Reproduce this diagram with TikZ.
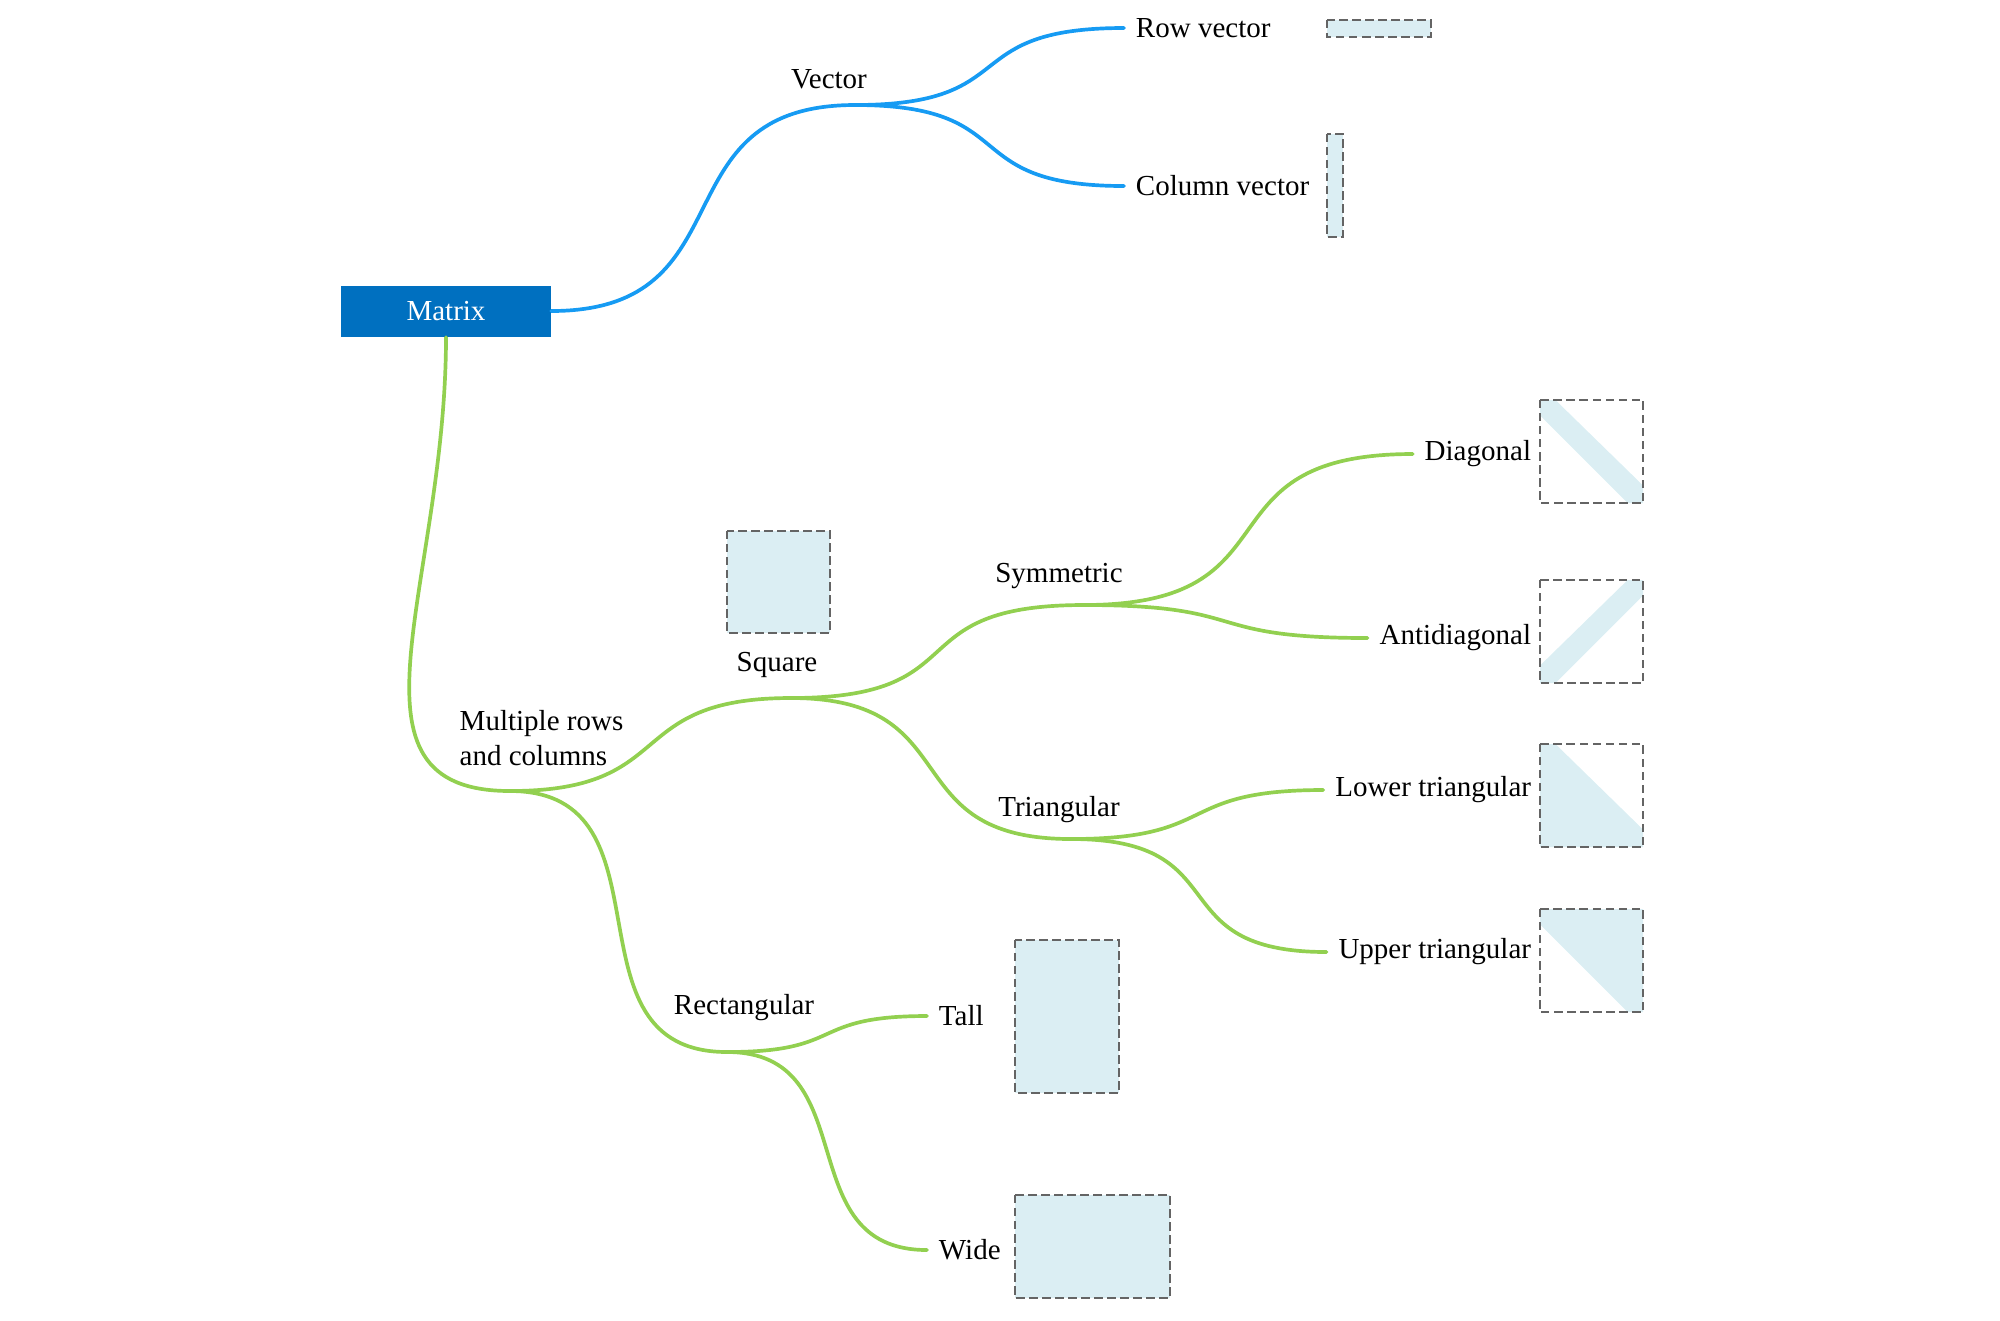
\documentclass[tikz,border=0pt]{standalone}
\usepackage{fontspec}
\setmainfont{Liberation Serif}
\usetikzlibrary{positioning}
\definecolor{vecblue}{RGB}{22,155,243}
\definecolor{leafgreen}{RGB}{146,208,80}
\definecolor{matrixblue}{RGB}{0,112,192}
\definecolor{cellfill}{RGB}{219,238,243}
\definecolor{framegray}{RGB}{100,100,100}

\begin{document}
\begin{tikzpicture}[x=0.01cm, y=-0.01cm,
    every node/.style={font=\fontsize{8.25}{9.7}\selectfont},
    branch/.style={line width=1.05pt, line cap=round},
    leaf/.style={inner sep=3.2pt},
    frame/.style={draw=framegray, line width=0.45pt, dash pattern=on 2.4pt off 1.3pt},
  ]
    \useasboundingbox (0,0) rectangle (2000,1320);

    \node[fill=matrixblue, text=white, minimum width=2.09cm, minimum height=0.51cm, inner sep=0pt] (matrix) at (446,311) {Matrix};

    % junctions
    \coordinate (vec) at (855,105);
    \coordinate (multi) at (510,791);
    \coordinate (sq) at (791,698);
    \coordinate (sym) at (1084,605);
    \coordinate (tri) at (1071,839);
    \coordinate (rect) at (727,1052);

    \node at (829,79) {Vector};
    \node[align=left, anchor=west, inner sep=0pt] at (459,738) {Multiple rows\\and columns};
    \node at (777,665) {Square};
    \node at (1059,576) {Symmetric};
    \node at (1059,810) {Triangular};
    \node at (744,1008) {Rectangular};

    \node[leaf, anchor=west] (row) at (1124,28) {Row vector};
    \node[leaf, anchor=west] (col) at (1124,186) {Column vector};
    \node[leaf, anchor=east] (diag) at (1543,454) {Diagonal};
    \node[leaf, anchor=east] (anti) at (1543,638) {Antidiagonal};
    \node[leaf, anchor=east] (lower) at (1543,790) {Lower triangular};
    \node[leaf, anchor=east] (upper) at (1543,952) {Upper triangular};
    \node[leaf, anchor=west] (tall) at (927,1016) {Tall};
    \node[leaf, anchor=west] (wide) at (927,1250) {Wide};

    \draw[branch, vecblue] (matrix.east) .. controls +(200,0) and +(-200,0) .. (vec);
    \draw[branch, vecblue] (vec) .. controls +(170,0) and +(-170,0) .. (row.west);
    \draw[branch, vecblue] (vec) .. controls +(170,0) and +(-170,0) .. (col.west);

    \draw[branch, leafgreen] (matrix.south) .. controls +(0,250) and +(-180,0) .. (multi);
    \draw[branch, leafgreen] (multi) .. controls +(170,0) and +(-170,0) .. (sq);
    \draw[branch, leafgreen] (multi) .. controls +(170,0) and +(-170,0) .. (rect);
    \draw[branch, leafgreen] (sq) .. controls +(190,0) and +(-190,0) .. (sym);
    \draw[branch, leafgreen] (sq) .. controls +(180,0) and +(-180,0) .. (tri);
    \draw[branch, leafgreen] (sym) .. controls +(220,0) and +(-220,0) .. (diag.west);
    \draw[branch, leafgreen] (sym) .. controls +(170,0) and +(-170,0) .. (anti.west);
    \draw[branch, leafgreen] (tri) .. controls +(150,0) and +(-150,0) .. (lower.west);
    \draw[branch, leafgreen] (tri) .. controls +(170,0) and +(-170,0) .. (upper.west);
    \draw[branch, leafgreen] (rect) .. controls +(120,0) and +(-120,0) .. (tall.west);
    \draw[branch, leafgreen] (rect) .. controls +(140,0) and +(-140,0) .. (wide.west);

    % plain shapes
    \draw[frame, fill=cellfill] (1327,20) rectangle (1431,37);
    \draw[frame, fill=cellfill] (1327,134) rectangle (1343,237);
    \draw[frame, fill=cellfill] (727,531) rectangle (830,633);
    \draw[frame, fill=cellfill] (1015,940) rectangle (1119,1093);
    \draw[frame, fill=cellfill] (1015,1195) rectangle (1170,1298);

    \begin{scope}[shift={(1540,400)}, x=1.03cm, y=-1.03cm]
        \fill[cellfill] (0,0) -- (0.15,0) -- (1,0.83) -- (1,1) -- (0.85,1) -- (0,0.15) -- cycle;
        \draw[frame] (0,0) rectangle (1,1);
    \end{scope}

    \begin{scope}[shift={(1540,580)}, x=1.03cm, y=-1.03cm]
        \fill[cellfill] (0,1) -- (0,0.83) -- (0.85,0) -- (1,0) -- (1,0.15) -- (0.15,1) -- cycle;
        \draw[frame] (0,0) rectangle (1,1);
    \end{scope}

    \begin{scope}[shift={(1540,744)}, x=1.03cm, y=-1.03cm]
        \fill[cellfill] (0,0) -- (0.15,0) -- (1,0.83) -- (1,1) -- (0,1) -- cycle;
        \draw[frame] (0,0) rectangle (1,1);
    \end{scope}

    \begin{scope}[shift={(1540,909)}, x=1.03cm, y=-1.03cm]
        \fill[cellfill] (0,0) -- (1,0) -- (1,1) -- (0.85,1) -- (0,0.15) -- cycle;
        \draw[frame] (0,0) rectangle (1,1);
    \end{scope}

\end{tikzpicture}
\end{document}
